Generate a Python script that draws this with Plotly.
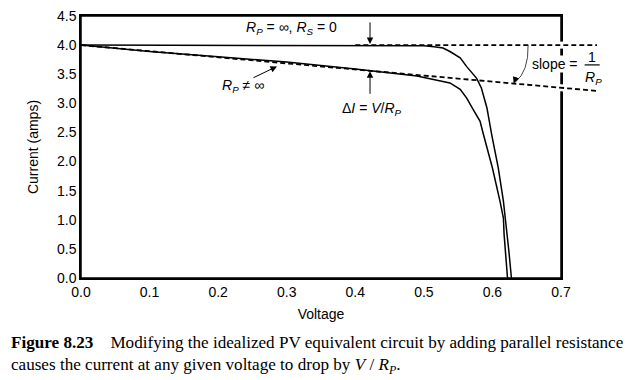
import plotly.graph_objects as go

# ---------------- data ----------------
ideal_v = [0.0, 0.1, 0.2, 0.3, 0.4, 0.45, 0.5, 0.515, 0.528, 0.538, 0.553, 0.5625,
           0.577, 0.584, 0.592, 0.599, 0.6085, 0.616, 0.619, 0.622, 0.624, 0.6277]
ideal_i = [4.0, 4.0, 4.0, 4.0, 4.0, 4.0, 3.99, 3.97, 3.95, 3.89, 3.78, 3.63,
           3.43, 3.26, 2.92, 2.46, 1.89, 1.32, 1.03, 0.75, 0.46, 0.0]

rp_v = [0.0, 0.1, 0.2, 0.3, 0.4, 0.465, 0.49, 0.514, 0.538, 0.553, 0.5625, 0.572,
        0.582, 0.587, 0.600, 0.611, 0.616, 0.617, 0.619, 0.622]
rp_i = [4.0, 3.89, 3.80, 3.71, 3.59, 3.51, 3.47, 3.41, 3.35, 3.24, 3.09, 2.89,
        2.69, 2.46, 1.89, 1.32, 1.03, 0.75, 0.46, 0.0]

# dashed reference lines (end points)
flat_line_v = [0.40, 0.7525]
flat_line_i = [4.0, 4.0]
slope_line_v = [0.0, 0.7554]
slope_line_i = [4.0, 3.21]

x_ticks = [0.0, 0.1, 0.2, 0.3, 0.4, 0.5, 0.6, 0.7]
y_ticks = [0.0, 0.5, 1.0, 1.5, 2.0, 2.5, 3.0, 3.5, 4.0, 4.5]
x_range = [0.0, 0.7]
y_range = [0.0, 4.5]

SANS = "Liberation Sans, Arial, sans-serif"
SERIF = "Liberation Serif, Times New Roman, serif"


def px(v):
    return (v - x_range[0]) / (x_range[1] - x_range[0])


def py(i):
    return (i - y_range[0]) / (y_range[1] - y_range[0])


def interp(lv, li, v):
    return li[0] + (li[1] - li[0]) * (v - lv[0]) / (lv[1] - lv[0])


fig = go.Figure()
fig.add_trace(go.Scatter(x=ideal_v, y=ideal_i, mode="lines",
                         line=dict(color="black", width=1.5), showlegend=False))
fig.add_trace(go.Scatter(x=rp_v, y=rp_i, mode="lines",
                         line=dict(color="black", width=1.5), showlegend=False))

shapes = [dict(type="rect", xref="paper", yref="paper", x0=0, y0=0, x1=1, y1=1,
               line=dict(color="black", width=1.5), fillcolor="rgba(0,0,0,0)", layer="above")]
for lv, li in ((flat_line_v, flat_line_i), (slope_line_v, slope_line_i)):
    # white halo where the dashed line crosses the frame
    a, b = 0.693, 0.707
    shapes.append(dict(type="line", xref="paper", yref="paper",
                       x0=px(a), y0=py(interp(lv, li, a)), x1=px(b), y1=py(interp(lv, li, b)),
                       line=dict(color="white", width=7), layer="above"))
    shapes.append(dict(type="line", xref="paper", yref="paper",
                       x0=px(lv[0]), y0=py(li[0]), x1=px(lv[1]), y1=py(li[1]),
                       line=dict(color="black", width=1.8, dash="5px,3px"), layer="above"))
# curved arrow for slope
shapes.append(dict(type="path", xref="x", yref="y",
                   path="M 0.652,4.0 Q 0.653,3.55 0.633,3.36",
                   line=dict(color="#444", width=1)))
# fraction bar
shapes.append(dict(type="line", xref="paper", yref="paper",
                   x0=px(0.7345), x1=px(0.7564), y0=py(3.66), y1=py(3.66),
                   line=dict(color="black", width=1.2)))
fig.update_layout(shapes=shapes)

ann_font = dict(family=SANS, size=14, color="black")
annotations = [
    dict(x=0.3077, y=4.29, text="<i>R</i><sub><i>P</i></sub> = ∞, <i>R</i><sub><i>S</i></sub> = 0",
         showarrow=False, font=ann_font),
    dict(x=0.4215, y=4.02, ax=0, ay=-23, text="", showarrow=True,
         arrowhead=2, arrowsize=1.3, arrowwidth=1, arrowcolor="black"),
    dict(x=0.424, y=2.91, text="Δ<i>I</i> = <i>V</i>/<i>R</i><sub><i>P</i></sub>",
         showarrow=False, font=ann_font),
    dict(x=0.4215, y=3.55, ax=0, ay=24, text="", showarrow=True,
         arrowhead=2, arrowsize=1.3, arrowwidth=1, arrowcolor="black"),
    dict(x=0.236, y=3.29, text="<i>R</i><sub><i>P</i></sub> ≠ ∞",
         showarrow=False, font=ann_font),
    dict(x=0.2858, y=3.634, ax=-25, ay=12, text="", showarrow=True,
         arrowhead=2, arrowsize=1.3, arrowwidth=1, arrowcolor="black"),
    dict(x=0.691, y=3.67, text="slope =", showarrow=False, font=ann_font,
         bgcolor="white", borderpad=0),
    dict(xref="paper", yref="paper", x=px(0.7456), y=py(3.80), text="1",
         xanchor="center", yanchor="middle", showarrow=False, font=ann_font),
    dict(xref="paper", yref="paper", x=px(0.7470), y=py(3.44),
         xanchor="center", yanchor="middle",
         text="<i>R</i><sub><i>P</i></sub>", showarrow=False, font=ann_font),
    dict(x=0.631, y=3.34, ax=3, ay=-8, text="", showarrow=True,
         arrowhead=2, arrowsize=1.3, arrowwidth=1, arrowcolor="black"),
    dict(xref="paper", yref="paper", x=-0.15, y=-0.2465, xanchor="left", yanchor="middle",
         text="<b>Figure 8.23</b>\u00a0\u00a0\u00a0\u00a0Modifying the idealized PV equivalent circuit by adding parallel resistance",
         showarrow=False, font=dict(family=SERIF, size=17.1, color="black")),
    dict(xref="paper", yref="paper", x=-0.15, y=-0.336, xanchor="left", yanchor="middle",
         text="causes the current at any given voltage to drop by <i>V</i> / <i>R</i><sub><i>P</i></sub>.",
         showarrow=False, font=dict(family=SERIF, size=17.1, color="black")),
]
fig.update_layout(annotations=annotations)

axis_common = dict(showline=True, linecolor="black", linewidth=1.5, mirror=True,
                   showgrid=False, zeroline=False, ticks="", ticklabeloverflow="allow",
                   automargin=False,
                   tickfont=dict(family=SANS, size=14, color="black"))
fig.update_xaxes(range=x_range, tickvals=x_ticks, tickformat=".1f",
                 title=dict(text="Voltage", font=dict(family=SANS, size=14, color="black"), standoff=11),
                 **axis_common)
fig.update_yaxes(range=y_range, tickvals=y_ticks, tickformat=".1f",
                 title=dict(text="Current (amps)", font=dict(family=SANS, size=14, color="black"), standoff=15),
                 **axis_common)

fig.update_layout(width=629, height=372, margin=dict(l=73, r=76, t=7.5, b=102, autoexpand=False),
                  plot_bgcolor="white", paper_bgcolor="white")
fig.write_html("out.html")
